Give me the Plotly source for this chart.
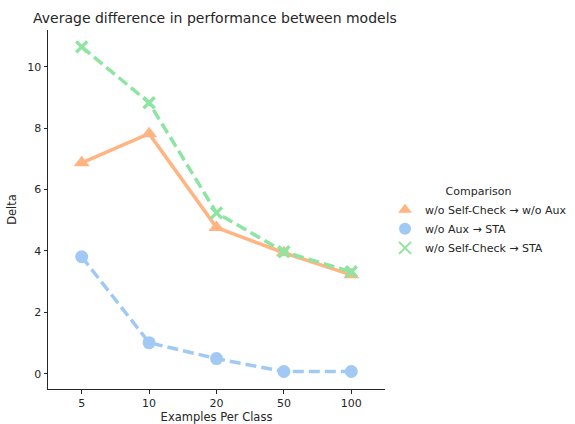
import plotly.graph_objects as go

categories = ["5", "10", "20", "50", "100"]
series_names = ["w/o Self-Check → w/o Aux", "w/o Aux → STA", "w/o Self-Check → STA"]
orange_vals = [6.87, 7.82, 4.76, 3.94, 3.22]
blue_vals = [3.81, 1.01, 0.49, 0.07, 0.07]
green_vals = [10.65, 8.83, 5.24, 3.97, 3.32]
y_ticks = [0, 2, 4, 6, 8, 10]

colors = ["#ffb482", "#a1c9f4", "#8de5a1"]
symbols = ["triangle-up", "circle", "x-thin"]
sizes = [14, 13, 11]
dashes = ["solid", "11px,5px", "11px,5px"]
values = [orange_vals, blue_vals, green_vals]

fig = go.Figure()
for i in [1, 0, 2]:
    sym = symbols[i]
    marker = dict(symbol=sym, size=sizes[i], color=colors[i])
    if sym == "x-thin":
        marker = dict(symbol=sym, size=sizes[i], color=colors[i], line=dict(color=colors[i], width=3.5))
    fig.add_trace(go.Scatter(
        x=categories, y=values[i], mode="lines+markers",
        line=dict(color=colors[i], width=3.5, dash=dashes[i]),
        marker=marker, showlegend=False, hoverinfo="skip"))

for i in range(3):
    sym = symbols[i]
    marker = dict(symbol=sym, size=sizes[i], color=colors[i])
    if sym == "x-thin":
        marker = dict(symbol=sym, size=10, color=colors[i], line=dict(color=colors[i], width=3))
    fig.add_trace(go.Scatter(
        x=[None], y=[None], mode="markers", name=series_names[i],
        marker=marker, showlegend=True))

fig.update_layout(
    width=575, height=424,
    margin=dict(l=48, r=190, t=30, b=35, autoexpand=False),
    paper_bgcolor="white", plot_bgcolor="white",
    font=dict(family="DejaVu Sans", size=11, color="#262626"),
    title=dict(text="Average difference in performance between models",
               x=33/575, xanchor="left", y=1 - 18/424, yanchor="middle",
               font=dict(size=14, color="#262626")),
    legend=dict(
        x=1.0, xanchor="left", y=0.465, yanchor="middle",
        title=dict(text="Comparison", side="top center", font=dict(size=11)),
        font=dict(size=11), itemsizing="constant",
        tracegroupgap=0, bgcolor="rgba(0,0,0,0)"),
    xaxis=dict(
        type="category", categoryorder="array", categoryarray=categories,
        range=[-0.5, 4.5], showgrid=False, zeroline=False, automargin=False,
        showline=True, linecolor="#262626", linewidth=1,
        ticks="outside", ticklen=3.5, tickcolor="#262626",
        title=dict(text="Examples Per Class", standoff=10, font=dict(size=11.5))),
    yaxis=dict(
        range=[-0.5, 11.2], tickvals=y_ticks, showgrid=False, zeroline=False,
        automargin=False,
        showline=True, linecolor="#262626", linewidth=1,
        ticks="outside", ticklen=3.5, tickcolor="#262626",
        title=dict(text="Delta", standoff=8, font=dict(size=11.5))),
)

fig.write_html("out.html", config={"displayModeBar": False},
               post_script="document.body.style.margin='0';")
